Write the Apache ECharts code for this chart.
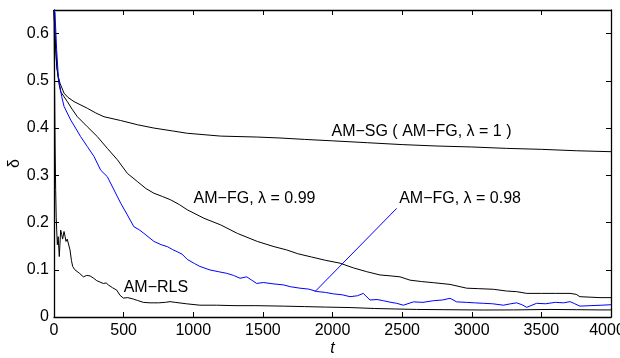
<!DOCTYPE html>
<html><head><meta charset="utf-8">
<script src="https://cdn.jsdelivr.net/npm/echarts@6/dist/echarts.min.js"></script>
<style>html,body{margin:0;padding:0;background:#fff}#c{width:620px;height:358px}</style>
</head><body><div id="c"></div>
<script>
// ---- data ----
var tSG = [0,10,20,30,43,72,100,144,239,300,359,479,600,718,850,957,1197,1460,1623,1800,2000,2250,2500,2750,3000,3250,3500,3750,4000];
var vSG = [0.65,0.58,0.53,0.51,0.495,0.474,0.465,0.456,0.442,0.432,0.424,0.416,0.407,0.400,0.394,0.389,0.383,0.381,0.379,0.376,0.373,0.369,0.365,0.362,0.360,0.357,0.355,0.352,0.350];

var t99 = [0,10,20,35,48,96,130,168,239,311,383,455,527,598,660,718,780,838,900,957,1077,1197,1317,1460,1580,1671,1750,1850,1950,2054,2150,2245,2341,2420,2485,2557,2640,2724,2844,2964,3050,3155,3250,3323,3395,3500,3600,3706,3750,3777,3850,3921,4000];
var v99 = [0.65,0.58,0.53,0.495,0.477,0.456,0.440,0.424,0.403,0.382,0.357,0.333,0.304,0.287,0.272,0.262,0.255,0.248,0.238,0.227,0.209,0.195,0.177,0.160,0.149,0.142,0.134,0.127,0.120,0.114,0.104,0.096,0.089,0.087,0.085,0.078,0.075,0.0727,0.069,0.061,0.060,0.0587,0.055,0.0536,0.050,0.050,0.050,0.050,0.048,0.043,0.042,0.041,0.041];

var t98 = [0,7,19,31,55,72,120,155,191,239,287,335,383,431,479,527,574,610,646,718,770,814,850,886,920,957,1010,1048,1120,1180,1240,1290,1336,1384,1420,1456,1503,1580,1647,1700,1767,1830,1887,1950,2006,2070,2126,2180,2221,2269,2320,2365,2420,2461,2509,2581,2650,2724,2790,2844,2892,2960,3020,3083,3150,3227,3280,3323,3360,3395,3466,3530,3600,3660,3706,3740,3777,3850,3933,4000];
var v98 = [0.65,0.644,0.566,0.509,0.467,0.446,0.417,0.400,0.382,0.361,0.340,0.311,0.297,0.269,0.241,0.216,0.191,0.185,0.177,0.160,0.153,0.149,0.143,0.138,0.133,0.122,0.113,0.107,0.0996,0.096,0.0925,0.088,0.082,0.085,0.078,0.071,0.073,0.070,0.068,0.064,0.061,0.059,0.054,0.052,0.049,0.047,0.043,0.045,0.050,0.036,0.037,0.0345,0.031,0.029,0.025,0.032,0.031,0.0345,0.036,0.0396,0.032,0.031,0.030,0.029,0.028,0.025,0.028,0.030,0.026,0.0205,0.029,0.028,0.031,0.030,0.0325,0.028,0.023,0.024,0.025,0.026];

var tRLS = [0,4,8,12,16,20,24,30,38,48,55,62,72,80,86,95,103,115,125,134,150,163,185,211,235,259,285,307,330,354,375,390,420,450,474,498,530,570,600,641,689,750,800,833,870,950,1048,1168,1300,1450,1647,1800,1950,2126,2300,2450,2605,2800,3083,3300,3562,3750,3921,4000];
var vRLS = [0.65,0.50,0.36,0.27,0.21,0.18,0.153,0.17,0.128,0.184,0.175,0.165,0.181,0.170,0.160,0.165,0.163,0.142,0.120,0.107,0.100,0.096,0.092,0.085,0.088,0.087,0.082,0.077,0.074,0.071,0.072,0.068,0.062,0.057,0.046,0.040,0.041,0.038,0.035,0.031,0.030,0.030,0.031,0.0325,0.031,0.028,0.025,0.025,0.024,0.024,0.023,0.022,0.021,0.020,0.018,0.017,0.016,0.0155,0.0148,0.015,0.016,0.0155,0.015,0.015];

var tPointer = [2461, 1874];
var vPointer = [0.230, 0.0536];

var xTicks = [0,500,1000,1500,2000,2500,3000,3500,4000];
var yTicks = [0,0.1,0.2,0.3,0.4,0.5,0.6];

var labels = [
  {text:'AM\u2212SG ( AM\u2212FG, \u03bb = 1 )', t:2639, v:0.392},
  {text:'AM\u2212FG, \u03bb = 0.99', t:1440, v:0.250},
  {text:'AM\u2212FG, \u03bb = 0.98', t:2916, v:0.250},
  {text:'AM\u2212RLS', t:732, v:0.0614}
];

function zip(a,b){return a.map(function(x,i){return [x,b[i]];});}
var FONT = 'Liberation Sans, Arial, Helvetica, sans-serif';
var chart = echarts.init(document.getElementById('c'), null, {renderer:'canvas'});

var axLine = {show:true, onZero:false, lineStyle:{color:'#000', width:1.3}};
var tickIn = {show:true, inside:true, length:5, lineStyle:{color:'#000', width:1}};
function yFmt(v){ var r=Math.round(v*10); if(Math.abs(v*10-r)>1e-6) return ''; return r===0?'0':(r/10).toFixed(1); }
function xFmt(v){ var s=String(Math.round(v)); return v>=xTicks[xTicks.length-1] ? '{r|'+s+'}' : s; }

function lineSeries(t,v,color){
  return {type:'line', data:zip(t,v), showSymbol:false, symbol:'none', xAxisIndex:0, yAxisIndex:0,
    lineStyle:{color:color,width:1}, animation:false, silent:true, z:3};
}

chart.setOption({
  animation:false,
  backgroundColor:'#fff',
  grid:{left:54, right:9, top:10, bottom:41, containLabel:false, outerBoundsMode:'none'},
  xAxis:[
    {type:'value', min:0, max:4000, interval:500, position:'bottom',
     axisLine:axLine, axisTick:tickIn, splitLine:{show:false},
     axisLabel:{color:'#000', fontSize:16, fontFamily:FONT, margin:6, formatter:xFmt,
       rich:{r:{color:'#000', fontSize:16, fontFamily:FONT, padding:[0,8,0,0]}}},
     name:'t', nameLocation:'middle', nameGap:24, nameMoveOverlap:false,
     nameTextStyle:{color:'#000', fontSize:16, fontStyle:'italic', fontFamily:FONT}},
    {type:'value', min:0, max:4000, interval:500, position:'top',
     axisLine:axLine, axisTick:tickIn, axisLabel:{show:false}, splitLine:{show:false}}
  ],
  yAxis:[
    {type:'value', min:0, max:0.65, interval:0.1, position:'left',
     axisLine:axLine, axisTick:tickIn, splitLine:{show:false},
     axisLabel:{color:'#000', fontSize:16, fontFamily:FONT, margin:5, formatter:yFmt},
     name:'\u03b4', nameLocation:'middle', nameGap:31, nameRotate:90, nameMoveOverlap:false,
     nameTextStyle:{color:'#000', fontSize:16, fontFamily:FONT}},
    {type:'value', min:0, max:0.65, interval:0.1, position:'right',
     axisLine:axLine, axisTick:tickIn, axisLabel:{show:false}, splitLine:{show:false}}
  ],
  series:[
    lineSeries(tSG,vSG,'#000'),
    lineSeries(t99,v99,'#000'),
    lineSeries(tRLS,vRLS,'#000'),
    lineSeries(t98,v98,'#0000ff'),
    lineSeries(tPointer,vPointer,'#0000ff')
  ]
});

var g = labels.map(function(l){
  var p = chart.convertToPixel({xAxisIndex:0, yAxisIndex:0}, [l.t, l.v]);
  return {type:'text', x:p[0], y:p[1], z:10,
    style:{text:l.text, fill:'#000', font:'16px '+FONT, textAlign:'center', textVerticalAlign:'middle'}};
});
chart.setOption({graphic:g});
</script></body></html>
